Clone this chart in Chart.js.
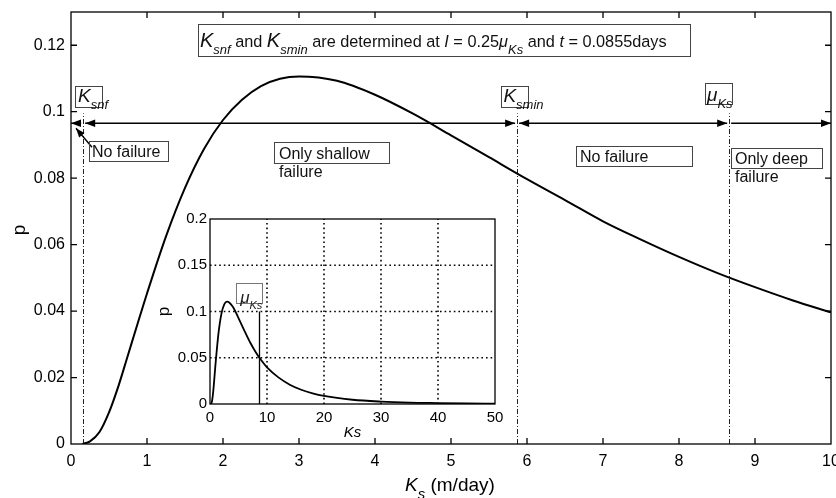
<!DOCTYPE html>
<html>
<head>
<meta charset="utf-8">
<script src="https://cdn.jsdelivr.net/npm/chart.js@4.4.0/dist/chart.umd.min.js"></script>
<style>
  html, body { margin: 0; padding: 0; background: #fff; }
  #wrap { position: relative; width: 836px; height: 498px; }
  #wrap canvas { position: absolute; left: 0; top: 0; }
  #insetChart { pointer-events: none; }
</style>
</head>
<body>
<div id="wrap">
  <canvas id="mainChart" width="836" height="498"></canvas>
  <canvas id="insetChart" width="836" height="498"></canvas>
</div>
<script>
// main curve: p against Ks (m/day)
const ksValues = [0.15, 0.25, 0.375, 0.5, 0.625, 0.75, 0.875, 1, 1.25, 1.5, 1.75, 2, 2.25, 2.5, 2.75,
                  3, 3.5, 4, 4.5, 5, 5.5, 6, 6.5, 7, 7.5, 8, 8.5, 9, 9.5, 10];
const pValues = [0, 0.0008, 0.0036, 0.0095, 0.0175, 0.0268, 0.0361, 0.0453, 0.0625, 0.0771, 0.0888, 0.0975, 0.1036, 0.1077, 0.1099,
                 0.1106, 0.1093, 0.1051, 0.0994, 0.0929, 0.0863, 0.0797, 0.0734, 0.0670, 0.0615, 0.0563, 0.0515, 0.0472, 0.0432, 0.0396];

// inset: same density over the wider range
const insetKs = [0, 0.25, 0.5, 1, 1.5, 2, 2.5, 3, 4, 5, 6, 7, 8, 9, 10, 12, 14, 16, 18, 20, 25, 30, 35, 40, 45, 50];
const insetP = [0, 0.0008, 0.0095, 0.0453, 0.0771, 0.0975, 0.1077, 0.1106, 0.1051, 0.0929, 0.0797, 0.0670, 0.0563, 0.0472, 0.0396,
                0.0288, 0.0209, 0.0154, 0.0115, 0.0087, 0.0046, 0.0026, 0.0015, 0.0010, 0.0006, 0.0004];

const xTicks = [0, 1, 2, 3, 4, 5, 6, 7, 8, 9, 10];
const yTicks = [0, 0.02, 0.04, 0.06, 0.08, 0.1, 0.12];
const yTickLabels = ['0', '0.02', '0.04', '0.06', '0.08', '0.1', '0.12'];
const insetXTicks = [0, 10, 20, 30, 40, 50];
const insetYTicks = [0, 0.05, 0.1, 0.15, 0.2];
const insetYTickLabels = ['0', '0.05', '0.1', '0.15', '0.2'];

// thresholds
const K_SNF = 0.16;
const K_SMIN = 5.87;
const MU_KS = 8.66;

const FAMILY = '"Liberation Sans", Arial, Helvetica, sans-serif';
Chart.defaults.font.family = FAMILY;
Chart.defaults.color = '#000';

// draws a run of text pieces: n = plain, i = italic, I = large italic, s = italic subscript
function richText(ctx, x, y, runs, size) {
  let cx = x;
  ctx.textAlign = 'left';
  ctx.textBaseline = 'alphabetic';
  for (const [text, kind] of runs) {
    let font = size + 'px ' + FAMILY, dy = 0;
    if (kind === 'i') font = 'italic ' + size + 'px ' + FAMILY;
    if (kind === 'I') font = 'italic ' + Math.round(size * 1.2) + 'px ' + FAMILY;
    if (kind === 's') { font = 'italic ' + Math.round(size * 0.8) + 'px ' + FAMILY; dy = size * 0.42; }
    ctx.font = font;
    ctx.fillText(text, cx, y + dy);
    cx += ctx.measureText(text).width;
  }
  return cx;
}

function arrowHead(ctx, x, y, dir) {
  const len = 10, half = 3.8;
  ctx.beginPath();
  ctx.moveTo(x, y);
  ctx.lineTo(x - dir * len, y - half);
  ctx.lineTo(x - dir * len, y + half);
  ctx.closePath();
  ctx.fill();
}

function frame(ctx, a) {
  ctx.save();
  ctx.strokeStyle = '#000';
  ctx.lineWidth = 1.3;
  ctx.setLineDash([]);
  ctx.strokeRect(a.left, a.top, a.right - a.left, a.bottom - a.top);
  ctx.restore();
}

// text boxes, in data units: box [x0, yTop, x1, yBottom], text lines with baseline
const textBoxes = [
  { box: [1.671, 0.1263, 8.145, 0.1167], at: [1.697, 0.1194], size: 16.3,
    lines: [[['K', 'I'], ['snf', 's'], [' and ', 'n'], ['K', 'I'], ['smin', 's'], [' are determined at ', 'n'],
             ['I', 'i'], [' = 0.25', 'n'], ['\u03bc', 'i'], ['Ks', 's'], [' and ', 'n'], ['t', 'i'], [' = 0.0855days', 'n']]] },
  { box: [0.053, 0.1077, 0.408, 0.1014], at: [0.092, 0.1029], size: 16, lines: [[['K', 'I'], ['snf', 's']]] },
  { box: [5.658, 0.1077, 6.013, 0.1014], at: [5.690, 0.1029], size: 16, lines: [[['K', 'I'], ['smin', 's']]] },
  { box: [8.342, 0.1086, 8.697, 0.1023], at: [8.368, 0.1032], size: 16, lines: [[['\u03bc', 'I'], ['Ks', 's']]] },
  { box: [0.237, 0.0911, 1.276, 0.0851], at: [0.276, 0.0863], size: 16, lines: [[['No failure', 'n']]] },
  { box: [2.671, 0.0908, 4.184, 0.0845], at: [2.737, 0.0857], size: 16, lines: [[['Only shallow', 'n']], [['failure', 'n']]] },
  { box: [6.645, 0.0896, 8.171, 0.0836], at: [6.697, 0.0848], size: 16, lines: [[['No failure', 'n']]] },
  { box: [8.684, 0.0890, 9.882, 0.0830], at: [8.737, 0.0842], size: 16, lines: [[['Only deep', 'n']], [['failure', 'n']]] }
];

const ARROW_Y = 0.0965;
// regions along the arrow line: [from, to, head at start, head at end]
const arrowSegments = [
  [0, K_SNF, true, false],
  [K_SNF, K_SMIN, true, true],
  [K_SMIN, MU_KS, true, true],
  [MU_KS, 10, false, true]
];

const mainDecor = {
  id: 'mainDecor',
  beforeDatasetsDraw(chart) {
    const { ctx, scales: { x, y } } = chart;
    ctx.save();
    ctx.strokeStyle = '#222';
    ctx.lineWidth = 1;
    ctx.setLineDash([5, 2, 1, 2]);
    for (const k of [K_SNF, K_SMIN, MU_KS]) {
      const px = Math.round(x.getPixelForValue(k)) + 0.5;
      ctx.beginPath();
      ctx.moveTo(px, y.getPixelForValue(0));
      ctx.lineTo(px, y.getPixelForValue(0.0995));
      ctx.stroke();
    }
    ctx.restore();
  },
  afterDatasetsDraw(chart) {
    const { ctx, chartArea: a, scales: { x, y } } = chart;
    frame(ctx, a);

    // inward tick marks on all four sides
    ctx.save();
    ctx.strokeStyle = '#000';
    ctx.lineWidth = 1.3;
    ctx.beginPath();
    for (const v of xTicks.slice(1, -1)) {
      const px = x.getPixelForValue(v);
      ctx.moveTo(px, a.bottom); ctx.lineTo(px, a.bottom - 6);
      ctx.moveTo(px, a.top); ctx.lineTo(px, a.top + 6);
    }
    for (const v of yTicks.slice(1)) {
      const py = y.getPixelForValue(v);
      ctx.moveTo(a.left, py); ctx.lineTo(a.left + 6, py);
      ctx.moveTo(a.right, py); ctx.lineTo(a.right - 6, py);
    }
    ctx.stroke();

    // region arrows
    const ay = y.getPixelForValue(ARROW_Y);
    ctx.fillStyle = '#000';
    ctx.lineWidth = 1.4;
    for (const [from, to, hs, he] of arrowSegments) {
      const x0 = x.getPixelForValue(from) + (from > 0 ? 2 : 0);
      const x1 = x.getPixelForValue(to) - (to < 10 ? 2 : 0);
      ctx.beginPath();
      ctx.moveTo(x0, ay); ctx.lineTo(x1, ay);
      ctx.stroke();
      if (hs) arrowHead(ctx, x0, ay, -1);
      if (he) arrowHead(ctx, x1, ay, 1);
    }

    // pointer from the left "No failure" box
    const tx = x.getPixelForValue(0.276), ty = y.getPixelForValue(0.0893);
    const hx = x.getPixelForValue(0.066), hy = y.getPixelForValue(0.095);
    ctx.beginPath();
    ctx.moveTo(tx, ty); ctx.lineTo(hx, hy);
    ctx.stroke();
    const ang = Math.atan2(hy - ty, hx - tx);
    ctx.beginPath();
    ctx.moveTo(hx, hy);
    ctx.lineTo(hx - 9 * Math.cos(ang) + 3.5 * Math.sin(ang), hy - 9 * Math.sin(ang) - 3.5 * Math.cos(ang));
    ctx.lineTo(hx - 9 * Math.cos(ang) - 3.5 * Math.sin(ang), hy - 9 * Math.sin(ang) + 3.5 * Math.cos(ang));
    ctx.closePath();
    ctx.fill();

    // text boxes
    for (const tb of textBoxes) {
      const bx0 = Math.round(x.getPixelForValue(tb.box[0])) + 0.5;
      const by0 = Math.round(y.getPixelForValue(tb.box[1])) + 0.5;
      const bx1 = Math.round(x.getPixelForValue(tb.box[2])) + 0.5;
      const by1 = Math.round(y.getPixelForValue(tb.box[3])) + 0.5;
      ctx.strokeStyle = '#444';
      ctx.lineWidth = 1;
      ctx.strokeRect(bx0, by0, bx1 - bx0, by1 - by0);
      ctx.fillStyle = '#111';
      const lx = x.getPixelForValue(tb.at[0]);
      let ly = y.getPixelForValue(tb.at[1]);
      for (const line of tb.lines) {
        richText(ctx, lx, ly, line, tb.size);
        ly += tb.size + 2;
      }
    }

    // axis titles
    ctx.fillStyle = '#000';
    richText(ctx, 405, 491, [['K', 'i'], ['s', 's'], [' (m/day)', 'n']], 19);
    ctx.translate(25, 230);
    ctx.rotate(-Math.PI / 2);
    ctx.font = '19px ' + FAMILY;
    ctx.textAlign = 'center';
    ctx.fillText('p', 0, 0);
    ctx.restore();
  }
};

const insetDecor = {
  id: 'insetDecor',
  beforeDraw(chart) {
    const { ctx, chartArea: a } = chart;
    ctx.save();
    ctx.fillStyle = '#fff';
    ctx.fillRect(a.left, a.top, a.right - a.left, a.bottom - a.top);
    ctx.restore();
  },
  beforeDatasetsDraw(chart) {
    const { ctx, chartArea: a, scales: { x, y } } = chart;
    ctx.save();
    ctx.strokeStyle = '#000';
    ctx.lineWidth = 1.6;
    ctx.setLineDash([1.6, 3]);
    ctx.beginPath();
    for (const v of insetXTicks.slice(1, -1)) {
      const px = x.getPixelForValue(v);
      ctx.moveTo(px, a.bottom); ctx.lineTo(px, a.top);
    }
    for (const v of insetYTicks.slice(1, -1)) {
      const py = y.getPixelForValue(v);
      ctx.moveTo(a.left, py); ctx.lineTo(a.right, py);
    }
    ctx.stroke();
    ctx.restore();
  },
  afterDatasetsDraw(chart) {
    const { ctx, chartArea: a, scales: { x, y } } = chart;
    frame(ctx, a);
    ctx.save();
    // mean marker
    const mx = Math.round(x.getPixelForValue(MU_KS)) + 0.5;
    ctx.strokeStyle = '#000';
    ctx.lineWidth = 1.3;
    ctx.beginPath();
    ctx.moveTo(mx, y.getPixelForValue(0));
    ctx.lineTo(mx, y.getPixelForValue(0.1));
    ctx.stroke();
    const bx0 = Math.round(x.getPixelForValue(4.56)) + 0.5, bx1 = Math.round(x.getPixelForValue(9.12)) + 0.5;
    const by0 = Math.round(y.getPixelForValue(0.1304)) + 0.5, by1 = Math.round(y.getPixelForValue(0.1087)) + 0.5;
    ctx.strokeStyle = '#777';
    ctx.lineWidth = 1;
    ctx.strokeRect(bx0, by0, bx1 - bx0, by1 - by0);
    ctx.fillStyle = '#222';
    richText(ctx, x.getPixelForValue(5.3), y.getPixelForValue(0.1095), [['\u03bc', 'I'], ['Ks', 's']], 14);

    // axis titles
    ctx.fillStyle = '#000';
    ctx.font = 'italic 15px ' + FAMILY;
    ctx.textAlign = 'center';
    ctx.textBaseline = 'alphabetic';
    ctx.fillText('Ks', (a.left + a.right) / 2, 437);
    ctx.translate(169, (a.top + a.bottom) / 2);
    ctx.rotate(-Math.PI / 2);
    ctx.font = '17px ' + FAMILY;
    ctx.fillText('p', 0, 0);
    ctx.restore();
  }
};

const common = {
  responsive: false,
  animation: false,
  events: [],
  plugins: { legend: { display: false }, tooltip: { enabled: false } }
};

new Chart(document.getElementById('mainChart'), {
  type: 'line',
  data: {
    datasets: [{
      data: ksValues.map((k, i) => ({ x: k, y: pValues[i] })),
      borderColor: '#000',
      borderWidth: 2,
      pointRadius: 0,
      cubicInterpolationMode: 'monotone',
      fill: false
    }]
  },
  options: {
    ...common,
    layout: { padding: { left: 0, top: 12, right: 5, bottom: 0 } },
    scales: {
      x: {
        type: 'linear', min: 0, max: 10,
        afterBuildTicks: s => { s.ticks = xTicks.map(v => ({ value: v })); },
        afterFit: s => { s.height = 54; s.paddingLeft = 0; s.paddingRight = 0; },
        grid: { display: false, drawTicks: false },
        border: { display: false },
        ticks: { padding: 8, font: { size: 16 }, color: '#000', maxRotation: 0, autoSkip: false, callback: v => String(v) }
      },
      y: {
        type: 'linear', min: 0, max: 0.13,
        afterBuildTicks: s => { s.ticks = yTicks.map(v => ({ value: v })); },
        afterFit: s => { s.width = 71; s.paddingTop = 0; s.paddingBottom = 0; },
        grid: { display: false, drawTicks: false },
        border: { display: false },
        ticks: { padding: 6, font: { size: 16 }, color: '#000', callback: (v, i) => yTickLabels[i] }
      }
    }
  },
  plugins: [mainDecor]
});

new Chart(document.getElementById('insetChart'), {
  type: 'line',
  data: {
    datasets: [{
      data: insetKs.map((k, i) => ({ x: k, y: insetP[i] })),
      borderColor: '#000',
      borderWidth: 1.8,
      pointRadius: 0,
      cubicInterpolationMode: 'monotone',
      fill: false
    }]
  },
  options: {
    ...common,
    layout: { padding: { left: 150, top: 219, right: 341, bottom: 0 } },
    scales: {
      x: {
        type: 'linear', min: 0, max: 50,
        afterBuildTicks: s => { s.ticks = insetXTicks.map(v => ({ value: v })); },
        afterFit: s => { s.height = 94; s.paddingLeft = 0; s.paddingRight = 0; },
        grid: { display: false, drawTicks: false },
        border: { display: false },
        ticks: { padding: 5, font: { size: 15 }, color: '#000', maxRotation: 0, autoSkip: false, callback: v => String(v) }
      },
      y: {
        type: 'linear', min: 0, max: 0.2,
        afterBuildTicks: s => { s.ticks = insetYTicks.map(v => ({ value: v })); },
        afterFit: s => { s.width = 60; s.paddingTop = 0; s.paddingBottom = 0; },
        grid: { display: false, drawTicks: false },
        border: { display: false },
        ticks: { padding: 3, font: { size: 15 }, color: '#000', callback: (v, i) => insetYTickLabels[i] }
      }
    }
  },
  plugins: [insetDecor]
});
</script>
</body>
</html>
